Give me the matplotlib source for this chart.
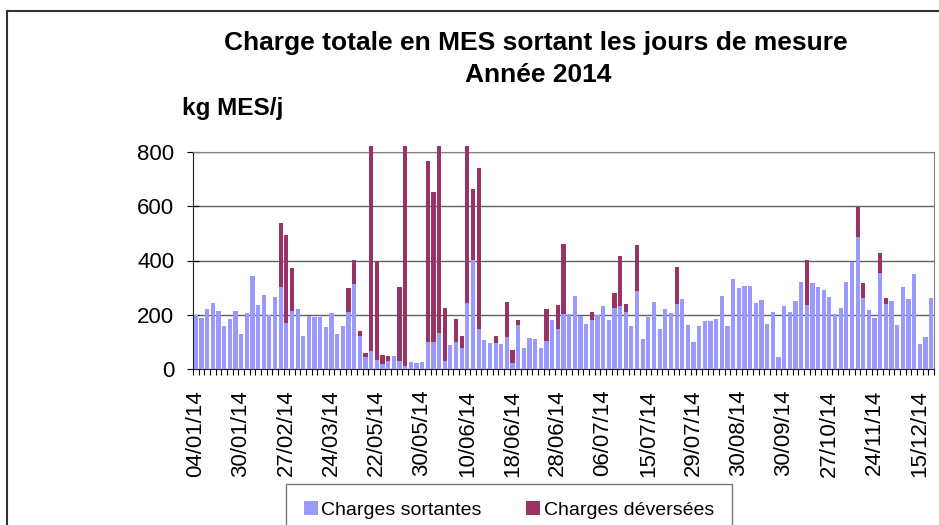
import numpy as np
import matplotlib
matplotlib.use("Agg")
import matplotlib.pyplot as plt
from matplotlib.patches import Rectangle
from matplotlib.ticker import FixedLocator

plt.rcParams['font.family'] = ['Liberation Sans', 'DejaVu Sans']

# Charges sortantes (kg MES/j), une valeur par jour de mesure
sortantes = [200, 188, 221, 245, 214, 160, 185, 214, 130, 205,
             342, 237, 271, 199, 265, 302, 170, 212, 222, 121,
             197, 191, 191, 154, 206, 129, 160, 211, 315, 122,
             44, 67, 34, 19, 30, 49, 29, 11, 27, 22,
             25, 99, 101, 131, 29, 90, 101, 77, 244, 402,
             149, 107, 96, 95, 94, 117, 22, 161, 76, 116,
             111, 79, 102, 179, 149, 202, 202, 269, 197, 166,
             179, 200, 231, 180, 226, 231, 210, 160, 287, 112,
             191, 247, 149, 221, 205, 241, 259, 162, 101, 160,
             176, 176, 184, 269, 159, 331, 299, 306, 307, 245,
             255, 167, 209, 46, 231, 211, 251, 322, 235, 317,
             304, 292, 264, 201, 224, 319, 394, 486, 262, 217,
             187, 355, 240, 249, 162, 304, 257, 350, 92, 117,
             262]

# Charges déversées (kg MES/j), empilées au-dessus
deversees = [0, 0, 0, 0, 0, 0, 0, 0, 0, 0,
             0, 0, 0, 0, 0, 235, 325, 160, 0, 0,
             0, 0, 0, 0, 0, 0, 0, 86, 87, 18,
             16, 755, 360, 33, 17, 0, 273, 811, 0, 0,
             0, 668, 553, 691, 195, 0, 84, 43, 578, 263,
             592, 0, 0, 27, 0, 129, 48, 18, 0, 0,
             0, 0, 119, 0, 87, 259, 0, 0, 0, 0,
             30, 0, 0, 0, 55, 184, 30, 0, 169, 0,
             0, 0, 0, 0, 0, 134, 0, 0, 0, 0,
             0, 0, 0, 0, 0, 0, 0, 0, 0, 0,
             0, 0, 0, 0, 0, 0, 0, 0, 167, 0,
             0, 0, 0, 0, 0, 0, 0, 111, 55, 0,
             0, 71, 22, 0, 0, 0, 0, 0, 0, 0,
             0]

dates = ["04/01/14", "30/01/14", "27/02/14", "24/03/14", "22/05/14",
         "30/05/14", "10/06/14", "18/06/14", "28/06/14", "06/07/14",
         "15/07/14", "29/07/14", "30/08/14", "30/09/14", "27/10/14",
         "24/11/14", "15/12/14"]

n = len(sortantes)
x = np.arange(n)

fig = plt.figure(figsize=(9.39, 5.25), dpi=100)
ax = fig.add_axes([193 / 939, 1 - 369 / 525, (934 - 193) / 939, (369 - 152) / 525])

ax.bar(x, sortantes, width=0.75, color='#9999FF', clip_on=False, zorder=3,
       label='Charges sortantes')
ax.bar(x, deversees, width=0.75, bottom=sortantes, color='#993366',
       clip_on=False, zorder=3, label='Charges déversées')

ax.set_xlim(-0.5, n - 0.5)
ax.set_ylim(0, 800)
ax.set_yticks([0, 200, 400, 600, 800])
ax.yaxis.grid(True, color='#606060', lw=1)
ax.set_axisbelow(True)

ax.set_xticks(x[::8])
ax.set_xticklabels(dates, rotation=90, fontsize=16)
ax.xaxis.set_minor_locator(FixedLocator(np.arange(-0.5, n, 1)))
ax.tick_params(axis='x', which='major', length=0, pad=15)
ax.tick_params(axis='x', which='minor', length=4, width=0.8, direction='out')
ax.tick_params(axis='y', labelsize=16, direction='inout', length=9, pad=9)

for s in ['top', 'right']:
    ax.spines[s].set_color('#808080')
ax.spines['left'].set_color('#222222')
ax.spines['bottom'].set_color('#222222')

fig.text(536 / 939, 1 - 43 / 525, "Charge totale en MES sortant les jours de mesure",
         ha='center', va='center', fontsize=19, fontweight='bold')
fig.text(538 / 939, 1 - 75 / 525, "Année 2014",
         ha='center', va='center', fontsize=19, fontweight='bold')
fig.text(233 / 939, 1 - 108 / 525, "kg MES/j",
         ha='center', va='center', fontsize=17.5, fontweight='bold')

leg = fig.legend(loc='upper left', bbox_to_anchor=(286 / 939, 1 - 484 / 525),
                 ncol=2, fontsize=14, frameon=True, fancybox=False,
                 handlelength=0.72, handleheight=0.72, handletextpad=0.2,
                 columnspacing=2.3, borderpad=0.9, borderaxespad=0)
leg.get_frame().set_edgecolor('#555555')
leg.get_frame().set_linewidth(1)

fig.add_artist(Rectangle((7 / 939, -0.1), 2, 1 - 11 / 525 + 0.1, fill=False,
                         edgecolor='#333333', lw=1.5, transform=fig.transFigure))

fig.savefig("out.png", dpi=100)
